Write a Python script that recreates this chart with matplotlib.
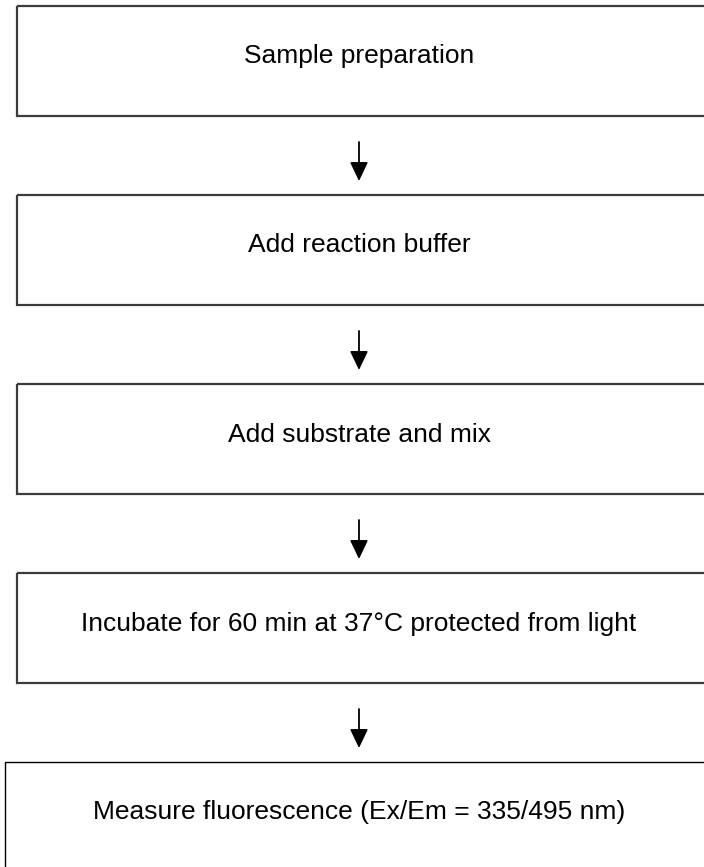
import matplotlib.pyplot as plt
from matplotlib.patches import Rectangle

plt.rcParams['font.family'] = ['Liberation Sans', 'DejaVu Sans']

# 流程步骤
steps = ['Sample preparation',
         'Add reaction buffer',
         'Add substrate and mix',
         'Incubate for 60 min at 37\u00b0C protected from light',
         'Measure fluorescence (Ex/Em = 335/495 nm)']
# 各框的上边、左边、右边（像素）
box_top = [6, 195, 384, 573, 762]
box_left = [17, 17, 17, 17, 5]
box_right = [706, 706, 706, 706, 716]
box_h = 110
x_mid = 359

fig = plt.figure(figsize=(7.04, 8.67), dpi=100)
ax = fig.add_axes([0, 0, 1, 1])
ax.set_xlim(0, 704)
ax.set_ylim(867, 0)
ax.axis('off')

for i, s in enumerate(steps):
    last = i == len(steps) - 1
    ax.add_patch(Rectangle((box_left[i], box_top[i]), box_right[i] - box_left[i], box_h,
                           fill=False, lw=1.0 if last else 1.6,
                           edgecolor='black' if last else '#3c3c3c'))
    ax.text(x_mid, box_top[i] + 57.5, s, ha='center', va='baseline', fontsize=19)
    if not last:
        # 箭头
        ax.annotate('', xy=(x_mid, box_top[i + 1] - 14), xytext=(x_mid, box_top[i] + box_h + 26),
                    arrowprops=dict(arrowstyle='-|>,head_length=1.15,head_width=0.55',
                                    lw=1.3, color='black', shrinkA=0, shrinkB=0))

fig.savefig('out.png', dpi=100)
